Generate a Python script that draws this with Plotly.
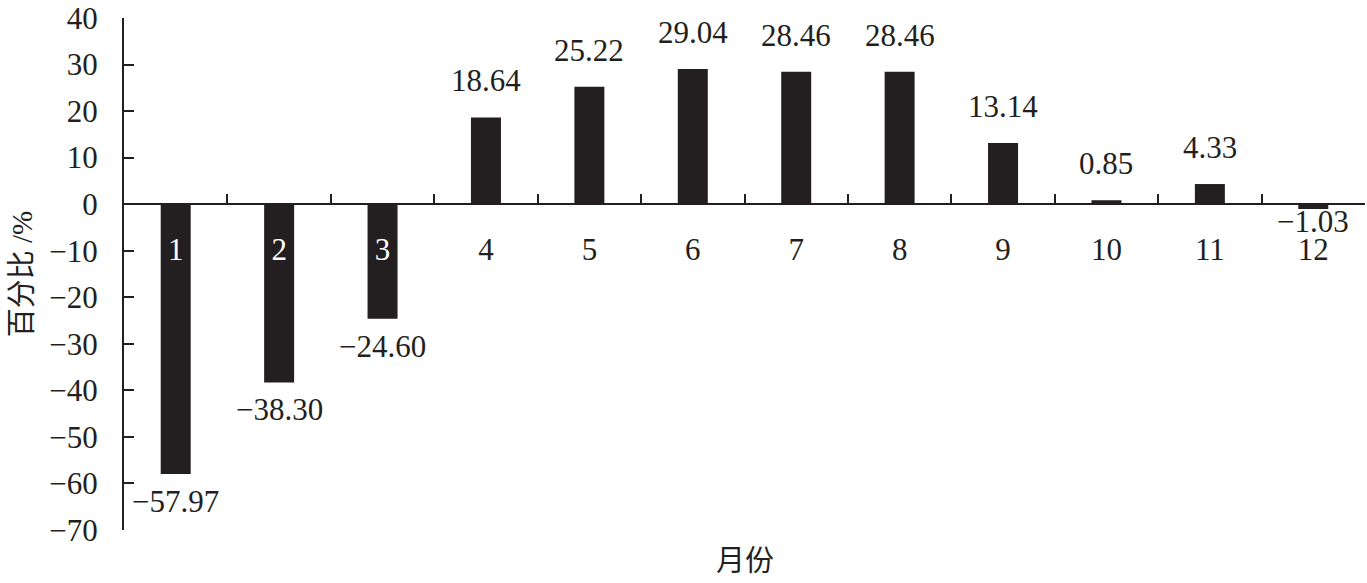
"""Monthly percentage change bar chart (百分比 by 月份)."""

import plotly.graph_objects as go

MONTHS = ["1", "2", "3", "4", "5", "6", "7", "8", "9", "10", "11", "12"]
VALUES = [-57.97, -38.30, -24.60, 18.64, 25.22, 29.04, 28.46, 28.46, 13.14, 0.85, 4.33, -1.03]
Y_TICKS = [40, 30, 20, 10, 0, -10, -20, -30, -40, -50, -60, -70]

Y_MIN, Y_MAX = -70, 40
BAR_COLOR = "#231f20"
FONT = "Liberation Serif, Times New Roman, Noto Sans CJK SC, serif"
FONT_SIZE = 31


def fmt(v: float) -> str:
    """Format a value with a typographic minus sign."""
    return f"{v:.2f}".replace("-", "\u2212")


def label_shift(v: float) -> int:
    """Vertical offset (px) of a value label from the bar end."""
    if v >= 0:
        return 17
    # tiny negative bars keep their label tucked in above the month label
    return 7 if v > -5 else -8


# month labels sitting on a dark bar are written in white
tick_text = [
    f'<span style="color:white">{m}</span>' if v < -14 else m
    for m, v in zip(MONTHS, VALUES)
]

fig = go.Figure()
fig.add_bar(x=MONTHS, y=VALUES, marker_color=BAR_COLOR, marker_line_width=0, width=0.29)

# value labels; on a category axis annotations take the category index
for i, v in enumerate(VALUES):
    fig.add_annotation(
        x=i,
        y=v,
        text=fmt(v),
        showarrow=False,
        yanchor="bottom" if v >= 0 else "top",
        yshift=label_shift(v),
        font={"size": FONT_SIZE, "family": FONT, "color": "#231f20"},
    )

fig.add_annotation(
    x=0.5,
    y=-0.025,
    xref="paper",
    yref="paper",
    text="月份",
    showarrow=False,
    yanchor="top",
    font={"size": 29, "family": FONT, "color": "#231f20"},
)

fig.update_layout(
    width=1367,
    height=583,
    margin={"l": 124, "r": 2, "t": 18, "b": 53},
    paper_bgcolor="white",
    plot_bgcolor="white",
    showlegend=False,
    font={"family": FONT, "size": FONT_SIZE, "color": "#231f20"},
    xaxis={
        "type": "category",
        "categoryorder": "array",
        "categoryarray": MONTHS,
        "tickvals": MONTHS,
        "ticktext": tick_text,
        "anchor": "free",
        "position": (0 - Y_MIN) / (Y_MAX - Y_MIN),
        "automargin": False,
        "showline": True,
        "linecolor": "#231f20",
        "linewidth": 2,
        "ticks": "inside",
        "tickson": "boundaries",
        "ticklen": 9,
        "tickwidth": 2,
        "tickcolor": "#231f20",
        "ticklabelstandoff": 18,
        "showgrid": False,
        "zeroline": False,
    },
    yaxis={
        "range": [Y_MIN, Y_MAX],
        "tickvals": Y_TICKS,
        "ticktext": [fmt(t).replace(".00", "") for t in Y_TICKS],
        "automargin": False,
        "showline": True,
        "linecolor": "#231f20",
        "linewidth": 2,
        "ticks": "inside",
        "ticklen": 10,
        "tickwidth": 2,
        "tickcolor": "#231f20",
        "ticklabelstandoff": 18,
        "ticklabeloverflow": "allow",
        "showgrid": False,
        "zeroline": False,
        "title": {"text": "百分比 /%", "standoff": 8, "font": {"size": 29}},
    },
)

# drop the browser's default body margin so the figure sits at the page origin
fig.write_html(
    "out.html",
    config={"displayModeBar": False},
    post_script="document.body.style.margin = '0';",
)
